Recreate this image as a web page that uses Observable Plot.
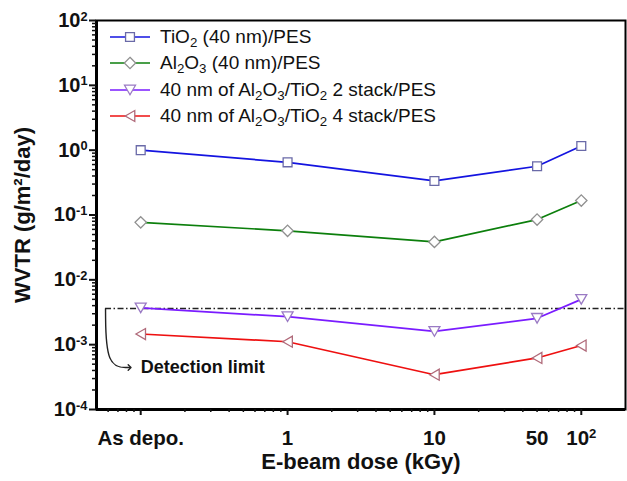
<!DOCTYPE html>
<html><head><meta charset="utf-8">
<script src="https://cdn.jsdelivr.net/npm/d3@7"></script>
<script src="https://cdn.jsdelivr.net/npm/@observablehq/plot@0.6"></script>
<style>
body{margin:0;background:#fff;}
#wrap{position:relative;width:627px;height:481px;font-family:"Liberation Sans",Arial,sans-serif;}
.leg{position:absolute;left:108px;height:26px;display:flex;align-items:center;font-size:19px;color:#111;white-space:nowrap;}
.leg svg{margin-right:8px;}
.leg sub{font-size:0.7em;vertical-align:-0.28em;line-height:0;}
</style></head><body><div id="wrap"></div>
<script>
// ---- data ----
const doses = [0.1, 1, 10, 50, 100];
const doseLabels = ["As depo.", "1", "10", "50", "10^2"];
const tio2 = [1.0, 0.65, 0.335, 0.565, 1.16];
const al2o3 = [0.077, 0.057, 0.0385, 0.085, 0.167];
const stack2 = [0.0037, 0.0027, 0.0016, 0.00255, 0.005];
const stack4 = [0.00146, 0.00111, 0.000344, 0.000624, 0.00097];
const seriesNames = [
  "TiO<sub>2</sub> (40 nm)/PES",
  "Al<sub>2</sub>O<sub>3</sub> (40 nm)/PES",
  "40 nm of Al<sub>2</sub>O<sub>3</sub>/TiO<sub>2</sub> 2 stack/PES",
  "40 nm of Al<sub>2</sub>O<sub>3</sub>/TiO<sub>2</sub> 4 stack/PES"
];
const lineColors = ["#1414e0", "#0c7f0c", "#7a1cff", "#ee1010"];
const markerColors = ["#6a6aa8", "#909090", "#9a7ac4", "#b06a7a"];
const detectionLimit = 0.0036;
const detectionText = "Detection limit";
const yMajor = [1e-4, 1e-3, 1e-2, 1e-1, 1, 10, 100];
const yTickLabels = ["10^-4", "10^-3", "10^-2", "10^-1", "10^0", "10^1", "10^2"];
const xMajor = [0.1, 1, 10, 100];
const xTitle = "E-beam dose (kGy)";
const yTitle = "WVTR (g/m²/day)";

// minor ticks
const yMinor = [];
for (let e = -4; e < 2; e++) for (let m = 2; m <= 9; m++) yMinor.push(m * Math.pow(10, e));
const xMinor = [0.06, 0.07, 0.08, 0.09];
for (let e = -1; e < 2; e++) for (let m = 2; m <= 9; m++) xMinor.push(m * Math.pow(10, e));

// symbols (centred on bounding box)
const symSquare = {draw(c, size){const s = Math.sqrt(size)/2; c.moveTo(-s,-s); c.lineTo(s,-s); c.lineTo(s,s); c.lineTo(-s,s); c.closePath();}};
const symDiamond = {draw(c, size){const r = Math.sqrt(size)*0.64; c.moveTo(0,-r); c.lineTo(r,0); c.lineTo(0,r); c.lineTo(-r,0); c.closePath();}};
const symTriDown = {draw(c, size){const q = Math.sqrt(size); const w = q*0.62, h = q*0.54; c.moveTo(-w,-h); c.lineTo(w,-h); c.lineTo(0,h); c.closePath();}};
const symTriLeft = {draw(c, size){const q = Math.sqrt(size); const w = q*0.62, h = q*0.54; c.moveTo(-h,0); c.lineTo(h,-w); c.lineTo(h,w); c.closePath();}};
const symbols = [symSquare, symDiamond, symTriDown, symTriLeft];

const seriesValues = [tio2, al2o3, stack2, stack4];
const rows = seriesValues.map((vals, k) => doses.map((d, i) => ({dose: d, value: vals[i], k})));

// arrow annotation path (data units)
const arrowPts = [[0.0576, detectionLimit], [0.058, 4.44e-4], [0.084, 4.44e-4]];
const textPos = [{x: 0.1, y: 4.44e-4, t: detectionText}];

const font = '"Liberation Sans", Arial, sans-serif';

const marks = [
  Plot.ruleY([detectionLimit], {x1: 0.0576, x2: 200, stroke: "#222", strokeWidth: 1.5, strokeDasharray: "6,2.5,1.5,2.5"}),
  Plot.line(arrowPts, {x: d => d[0], y: d => d[1], curve: "basis", stroke: "#222", strokeWidth: 1.4, markerEnd: "arrow"}),
  Plot.text(textPos, {x: "x", y: "y", text: "t", textAnchor: "start", fontSize: 18, fontWeight: "bold", fill: "#111"}),
  ...rows.map((r, k) => Plot.line(r, {x: "dose", y: "value", stroke: lineColors[k], strokeWidth: 1.7})),
  ...rows.map((r, k) => Plot.dot(r, {x: "dose", y: "value", symbol: symbols[k], r: 5, stroke: markerColors[k], strokeWidth: 1.3, fill: "white"})),
  Plot.frame({stroke: "#000", strokeWidth: 2}),
  Plot.ruleX([0.05], {stroke: "#000", strokeWidth: 3}),
  Plot.ruleY([1e-4], {stroke: "#000", strokeWidth: 3}),
  Plot.axisY(yMajor, {tickSize: 7, tickFormat: () => "", label: null, strokeWidth: 2}),
  Plot.axisY(yMinor, {tickSize: 4, tickFormat: () => "", label: null, strokeWidth: 1.5}),
  Plot.axisY(yMajor, {tickSize: 0, tickPadding: 9, tickFormat: d => yTickLabels[yMajor.indexOf(d)], label: null, fontSize: 20, fontWeight: "bold", fill: "#111"}),
  Plot.axisX(xMajor, {tickSize: 6, tickFormat: () => "", label: null, strokeWidth: 2}),
  Plot.axisX(xMinor, {tickSize: 3, tickFormat: () => "", label: null, strokeWidth: 1.5}),
  Plot.text(doses, {x: d => d, text: (d, i) => doseLabels[i], frameAnchor: "bottom", lineAnchor: "middle", textAnchor: "middle", dy: 28.5, fontSize: 20.5, fontWeight: "bold", fill: "#111"}),
  Plot.text([yTitle], {text: d => d, frameAnchor: "left", textAnchor: "middle", lineAnchor: "middle", dx: -74, rotate: -90, fontSize: 22, fontWeight: "bold", fill: "#111"}),
  Plot.text([xTitle], {text: d => d, frameAnchor: "bottom", textAnchor: "middle", lineAnchor: "middle", dy: 52, fontSize: 22, fontWeight: "bold", fill: "#111"})
];

const svg = Plot.plot({
  width: 627, height: 481,
  marginLeft: 96, marginRight: 2, marginTop: 20, marginBottom: 72,
  x: {type: "log", domain: [0.05, 200], axis: null},
  y: {type: "log", domain: [1e-4, 1e2], axis: null},
  style: {fontFamily: font, fontSize: "20px", background: "white", color: "#111"},
  marks
});

// superscripts
d3.select(svg).selectAll("text").each(function(){
  const s = this.textContent;
  if (s.includes("^")) {
    const [base, exp] = s.split("^");
    const t = d3.select(this);
    t.text(null);
    t.append("tspan").text(base);
    t.append("tspan").attr("dy", "-0.5em").attr("font-size", "0.64em").text(exp);
  }
});

const wrap = document.getElementById("wrap");
wrap.appendChild(svg);

// legend
const legTops = [37, 63, 90, 116];
seriesNames.forEach((name, k) => {
  const row = document.createElement("div");
  row.className = "leg";
  row.style.top = (legTops[k] - 13) + "px";
  const s = d3.create("svg").attr("width", 44).attr("height", 22);
  s.append("line").attr("x1", 2).attr("x2", 42).attr("y1", 11).attr("y2", 11).attr("stroke", lineColors[k]).attr("stroke-width", 1.7);
  const p = d3.path();
  symbols[k].draw(p, Math.PI * 25);
  s.append("path").attr("d", p.toString()).attr("transform", "translate(22,11)").attr("fill", "white").attr("stroke", markerColors[k]).attr("stroke-width", 1.3);
  row.appendChild(s.node());
  const span = document.createElement("span");
  span.innerHTML = name;
  row.appendChild(span);
  wrap.appendChild(row);
});
</script>
</body></html>
